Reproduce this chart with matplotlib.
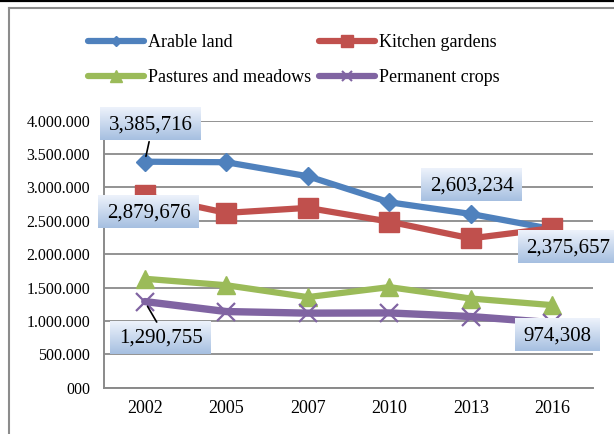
import matplotlib
matplotlib.use('Agg')
import matplotlib.pyplot as plt
import numpy as np
from matplotlib.lines import Line2D
from matplotlib.image import BboxImage
from matplotlib.transforms import Bbox

# ---------------- data ----------------
years = ['2002', '2005', '2007', '2010', '2013', '2016']
arable = [3385716, 3378000, 3168000, 2778000, 2603234, 2375657]
kitchen = [2879676, 2619000, 2694000, 2488000, 2237000, 2390000]
pastures = [1632000, 1535000, 1357000, 1507000, 1336000, 1237000]
permanent = [1290755, 1141000, 1117000, 1120000, 1066000, 974308]
series_names = ['Arable land', 'Kitchen gardens', 'Pastures and meadows', 'Permanent crops']
yticks = [0, 500000, 1000000, 1500000, 2000000, 2500000, 3000000, 3500000, 4000000]
ytick_labels = ['000', '500.000', '1.000.000', '1.500.000', '2.000.000',
                '2.500.000', '3.000.000', '3.500.000', '4.000.000']

# ---------------- style ----------------
W, H = 614, 434
SERIF = 'Liberation Serif'
blue, red, green, purple = '#4F81BD', '#C0504D', '#9BBB59', '#8064A2'
gridc = '#8a8a8a'

fig = plt.figure(figsize=(W / 100, H / 100), dpi=100)
ax = fig.add_axes([104 / W, 1 - 387.7 / H, (593 - 104) / W, (387.7 - 120.7) / H])

x = np.arange(len(years))
ax.plot(x, arable, color=blue, lw=4.5, marker='D', ms=9, zorder=3,
        solid_joinstyle='round', solid_capstyle='round')
ax.plot(x, kitchen, color=red, lw=4.5, marker='s', ms=14, zorder=4,
        solid_joinstyle='round', solid_capstyle='round')
ax.plot(x, pastures, color=green, lw=4.5, marker='^', ms=12.5, zorder=5,
        solid_joinstyle='round', solid_capstyle='round')
ax.plot(x, permanent, color=purple, lw=5.3, marker='x', ms=13, mew=1.6, zorder=6,
        solid_joinstyle='round', solid_capstyle='round')

ax.set_xlim(-0.5, len(years) - 0.5)
ax.set_ylim(yticks[0], yticks[-1])
ax.set_yticks(yticks)
ax.set_yticklabels(ytick_labels, fontfamily=SERIF, fontsize=11.5)
ax.set_xticks(x)
ax.set_xticklabels(years, fontfamily=SERIF, fontsize=13)
ax.tick_params(axis='y', length=0, pad=10)
ax.tick_params(axis='x', length=0, pad=9)
ax.grid(axis='y', color=gridc, lw=1.3)
ax.set_axisbelow(True)
for s in ['top', 'right']:
    ax.spines[s].set_visible(False)
for s in ['left', 'bottom']:
    ax.spines[s].set_color(gridc)
    ax.spines[s].set_linewidth(1.4)

# ---------------- legend ----------------
def proxy(c, m, ms, mew=1.0):
    return Line2D([], [], color=c, lw=4.5, marker=m, ms=ms, mew=mew,
                  solid_capstyle='round')

handles = [proxy(blue, 'D', 5.5), proxy(green, '^', 8.5),
           proxy(red, 's', 8.5), proxy(purple, 'x', 7, 1.5)]
labels = [series_names[0], series_names[2], series_names[1], series_names[3]]
fig.legend(handles, labels, ncol=2, loc='upper left',
           bbox_to_anchor=(88 / W, 1 - 34 / H), frameon=False,
           prop={'family': SERIF, 'size': 13}, handlelength=3.1,
           handletextpad=0.25, columnspacing=0.4, labelspacing=1.0,
           borderpad=0, borderaxespad=0)

# ---------------- data labels ----------------
label_specs = [
    (arable, 0, '3,385,716', (6, 37), True, (0.5, 0.0)),
    (kitchen, 0, '2,879,676', (4, -18), False, None),
    (arable, 4, '2,603,234', (1, 27.5), False, None),
    (arable, 5, '2,375,657', (16, -19), False, None),
    (permanent, 0, '1,290,755', (16, -37), True, (0.5, 1.0)),
    (permanent, 5, '974,308', (5.5, -13), False, None),
]
anns = []
for vals, i, txt, off, leader, relpos in label_specs:
    ap = None
    if leader:
        ap = dict(arrowstyle='-', color='black', lw=1.2, shrinkA=3.5,
                  shrinkB=4, relpos=relpos)
    a = ax.annotate(txt, xy=(x[i], vals[i]), xytext=off,
                    textcoords='offset pixels', ha='center', va='center',
                    fontsize=15, fontfamily=SERIF, zorder=10,
                    annotation_clip=False, arrowprops=ap)
    anns.append(a)

fig.canvas.draw()
renderer = fig.canvas.get_renderer()
top_c = np.array([0.93, 0.95, 0.985])
bot_c = np.array([0.65, 0.75, 0.88])
t = np.linspace(0, 1, 64)[:, None, None]
grad = top_c * (1 - t) + bot_c * t
grad = np.repeat(grad, 2, axis=1)
for a in anns:
    bb = matplotlib.text.Text.get_window_extent(a, renderer)
    cx = (bb.x0 + bb.x1) / 2
    cy = (bb.y0 + bb.y1) / 2 + 1.5
    w = bb.width + 17
    h = 33
    im = BboxImage(Bbox.from_extents(cx - w / 2, cy - h / 2, cx + w / 2, cy + h / 2),
                   interpolation='bilinear', zorder=9, origin='upper')
    im.set_data(grad)
    ax.add_artist(im)
    im.set_clip_on(False)

# ---------------- frame ----------------
fig.add_artist(Line2D([0, 1], [1 - 1 / H, 1 - 1 / H], transform=fig.transFigure,
                      color='black', lw=1.6))
fig.add_artist(Line2D([9 / W, 9 / W], [0, 1 - 7.5 / H], transform=fig.transFigure,
                      color='#8c8c8c', lw=1.5))
fig.add_artist(Line2D([9 / W, 1], [1 - 7.5 / H, 1 - 7.5 / H], transform=fig.transFigure,
                      color='#8c8c8c', lw=1.5))

fig.savefig('out.png', dpi=100)
